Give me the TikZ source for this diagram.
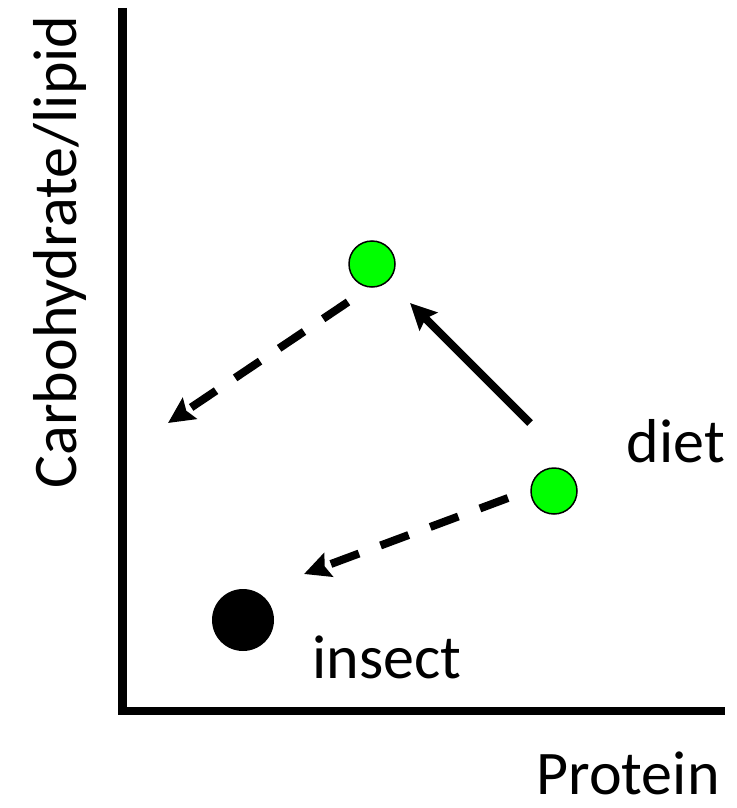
\documentclass[tikz,border=0pt]{standalone}
\usepackage{fontspec}
\setmainfont{Carlito}
\usetikzlibrary{arrows.meta}
\definecolor{dotgreen}{HTML}{00FF00}
\begin{document}
\begin{tikzpicture}[x=1pt,y=-1pt,
  axisline/.style={line width=8.5pt},
  greendot/.style={circle,draw=black,line width=1.5pt,fill=dotgreen,minimum size=46pt,inner sep=0pt},
  insectdot/.style={circle,fill=black,minimum size=62pt,inner sep=0pt},
  shiftarrow/.style={line width=8pt,-{Stealth[length=26pt,width=25pt,inset=4pt]}},
  dasharrow/.style={shiftarrow,dash pattern=on 30pt off 23pt},
  lbl/.style={font=\fontsize{62}{74}\selectfont,inner sep=0pt,anchor=base}]
\useasboundingbox (0,0) rectangle (736,808);
\fill[white] (0,0) rectangle (736,808);
% axes
\coordinate (ytop) at (122.5,8);
\coordinate (origin) at (122.5,711);
\coordinate (xend) at (725,711);
\draw[axisline] (ytop) -- (122.5,715);
\draw[axisline] (118.25,711) -- (xend);
% points
\node[greendot] (dietA) at (372,264) {};
\node[greendot] (dietB) at (554,491) {};
\node[insectdot] (insect) at (243,620) {};
% arrow ends
\coordinate (s1) at (530,423);
\coordinate (e1) at (410,303);
\coordinate (s2) at (348,302);
\coordinate (e2) at (168,423);
\coordinate (s3) at (508,498);
\coordinate (e3) at (304,574);
\draw[shiftarrow] (s1) -- (e1);
\draw[dasharrow] (s2) -- (e2);
\draw[dasharrow] (s3) -- (e3);
% labels
\node[lbl] (dietlbl) at (676,462) {diet};
\node[lbl] (insectlbl) at (387,678) {insect};
\node[lbl] (xlbl) at (628,794) {Protein};
\node[lbl,rotate=90] (ylbl) at (76,252) {Carbohydrate/lipid};
\end{tikzpicture}
\end{document}
